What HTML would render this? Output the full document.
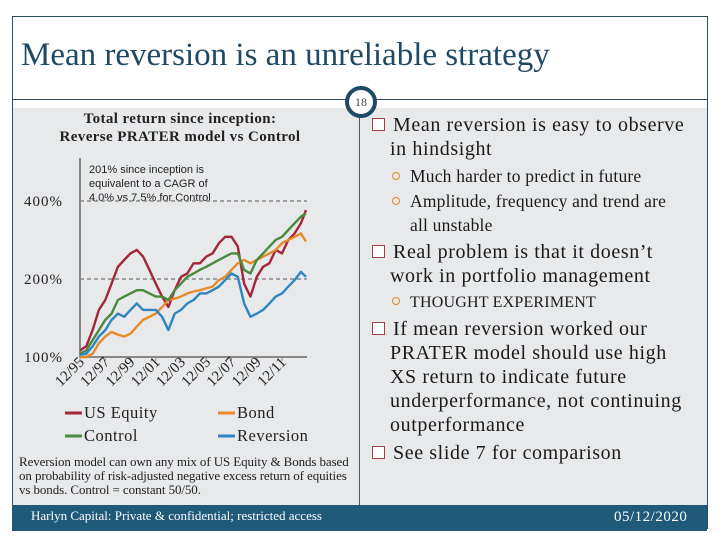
<!DOCTYPE html>
<html><head><meta charset="utf-8"><style>
body{margin:0;width:720px;height:540px;background:#fff;position:relative;overflow:hidden;font-family:"Liberation Serif",serif;}
.abs{position:absolute;}
.b{font-size:20px;letter-spacing:0.6px;color:#1a1a1a;white-space:nowrap;line-height:24px;}
.sq{display:inline-block;width:11px;height:11px;border:1px solid #a04040;background:#fff;margin-right:8px;vertical-align:0px;}
.s{font-size:17.5px;letter-spacing:0.2px;color:#1a1a1a;white-space:nowrap;}
.o{display:inline-block;width:6px;height:6px;border:1.5px solid #e08a20;border-radius:50%;margin-right:10px;vertical-align:2px;}
</style></head><body>
<div class="abs" style="left:12px;top:16px;width:694px;height:511px;border:1px solid #2b4a5e;"></div>
<div class="abs" style="left:21px;top:37px;font-size:33px;color:#1f4a66;white-space:nowrap;">Mean reversion is an unreliable strategy</div>
<div class="abs" style="left:13px;top:108px;width:694px;height:397px;background:#e8e9eb;"></div>
<div class="abs" style="left:13px;top:99px;width:694px;height:1px;background:#2b4a5e;"></div>
<div class="abs" style="left:359px;top:108px;width:1px;height:397px;background:#555;"></div>
<div class="abs" style="left:345px;top:86px;width:24px;height:24px;border:4px solid #1f4a66;border-radius:50%;background:#fff;font-size:12px;color:#444;text-align:center;line-height:24px;">18</div>
<div class="abs" style="left:12px;top:505px;width:695px;height:26px;background:#1f5a7a;"></div>
<div class="abs" style="left:31px;top:508px;font-size:13px;color:#fff;">Harlyn Capital: Private &amp; confidential; restricted access</div>
<div class="abs" style="left:614px;top:509px;font-size:15px;letter-spacing:0.5px;color:#fff;">05/12/2020</div>

<div class="abs" style="left:372px;top:113px;">
<div class="b"><span class="sq"></span>Mean reversion is easy to observe</div>
<div class="b" style="padding-left:18px">in hindsight</div>
<div class="s" style="padding-left:20px;margin-top:2px;line-height:26px"><span class="o"></span>Much harder to predict in future</div>
<div class="s" style="padding-left:20px;line-height:25px"><span class="o"></span>Amplitude, frequency and trend are</div>
<div class="s" style="padding-left:38px;line-height:22px">all unstable</div>
<div class="b" style="margin-top:4px"><span class="sq"></span>Real problem is that it doesn’t</div>
<div class="b" style="padding-left:18px">work in portfolio management</div>
<div class="s" style="padding-left:20px;font-size:16px;line-height:29px"><span class="o"></span>THOUGHT EXPERIMENT</div>
<div class="b"><span class="sq"></span>If mean reversion worked our</div>
<div class="b" style="padding-left:18px">PRATER model should use high</div>
<div class="b" style="padding-left:18px">XS return to indicate future</div>
<div class="b" style="padding-left:18px">underperformance, not continuing</div>
<div class="b" style="padding-left:18px">outperformance</div>
<div class="b" style="margin-top:4px"><span class="sq"></span>See slide 7 for comparison</div>
</div>

<div class="abs" style="left:19px;top:455px;font-size:13px;line-height:14px;color:#222;letter-spacing:-0.1px;white-space:nowrap;">Reversion model can own any mix of US Equity &amp; Bonds based<br>on probability of risk-adjusted negative excess return of equities<br>vs bonds. Control = constant 50/50.</div>

<svg class="abs" style="left:0;top:0" width="720" height="540">
<text x="180" y="123" text-anchor="middle" font-family="Liberation Serif" font-weight="bold" font-size="15" letter-spacing="0.4" fill="#222">Total return since inception:</text>
<text x="180" y="141" text-anchor="middle" font-family="Liberation Serif" font-weight="bold" font-size="15" letter-spacing="0.4" fill="#222">Reverse PRATER model vs Control</text>
<text x="89" y="173" font-family="Liberation Sans" font-size="11" fill="#222">201% since inception is</text>
<text x="89" y="187" font-family="Liberation Sans" font-size="11" fill="#222">equivalent  to a CAGR of</text>
<text x="89" y="201" font-family="Liberation Sans" font-size="11" fill="#222">4.0% vs 7.5% for Control</text>
<g id="grid"></g><g id="axes"></g><g id="series"></g><g id="legend"></g>
</svg>
<script>
const yTicks=[100,200,400];
const yTickLabels=["100%","200%","400%"];
const xTickLabels=["12/95","12/97","12/99","12/01","12/03","12/05","12/07","12/09","12/11"];
const xTickYears=[1995.92,1997.92,1999.92,2001.92,2003.92,2005.92,2007.92,2009.92,2011.92];
const periods=[1995.92,1996.42,1996.92,1997.42,1997.92,1998.42,1998.92,1999.42,1999.92,2000.42,2000.92,2001.42,2001.92,2002.42,2002.92,2003.42,2003.92,2004.42,2004.92,2005.42,2005.92,2006.42,2006.92,2007.42,2007.92,2008.42,2008.92,2009.42,2009.92,2010.42,2010.92,2011.42,2011.92,2012.42,2012.92,2013.42,2013.82];
const usEquity=[106,110,127,152,166,192,223,237,251,259,244,217,192,171,156,181,204,210,230,230,244,251,275,291,291,267,192,171,204,223,230,259,251,283,300,328,369];
const control=[103,106,116,127,139,147,166,171,176,181,181,176,171,171,166,181,192,204,210,217,223,230,237,244,251,251,217,210,237,251,267,283,291,309,328,348,358];
const bond=[100,100,103,113,120,125,122,120,123,131,139,143,147,156,166,168,171,176,179,181,184,187,198,204,217,230,237,230,237,244,251,259,275,283,291,300,279];
const reversion=[102,103,110,120,127,139,147,143,152,161,152,152,152,143,127,147,152,161,166,176,176,181,187,198,210,204,161,143,147,152,161,171,176,187,198,213,204];
const seriesNames=["US Equity","Bond","Control","Reversion"];
const NS="http://www.w3.org/2000/svg";
const X0=80,X1=307,T0=1995.92,T1=2013.9;
const xs=t=>X0+(t-T0)/(T1-T0)*(X1-X0);
const ys=v=>357-Math.log2(v/100)*78;
function mk(tag,attrs,parent){const e=document.createElementNS(NS,tag);for(const k in attrs)e.setAttribute(k,attrs[k]);document.getElementById(parent).appendChild(e);return e;}
yTicks.forEach((v,i)=>{
 if(v>100){const g=mk('line',{x1:X0,x2:X1,y1:ys(v),y2:ys(v),stroke:'#888','stroke-width':1.5,'stroke-dasharray':'4,3'},'grid');
 
 }
 const t=mk('text',{x:24,y:ys(v)+5,'font-family':'Liberation Serif','font-size':15,'letter-spacing':1,fill:'#222'},'axes');t.textContent=yTickLabels[i];
 
 
});
const ax=mk('line',{x1:X0,x2:X0,y1:158,y2:357,stroke:'#888','stroke-width':2},'axes');


const bx=mk('line',{x1:X0,x2:X1,y1:357,y2:357,stroke:'#888','stroke-width':2},'axes');


xTickYears.forEach((t,i)=>{
 const x=xs(t)+5;
 const tk=mk('line',{x1:xs(t),x2:xs(t),y1:357,y2:361,stroke:'#888'},'axes');
 
 
 const l=mk('text',{x:x,y:363,'text-anchor':'end','font-family':'Liberation Serif','font-size':15,fill:'#222',transform:`rotate(-45 ${x} 363)`},'axes');
 l.textContent=xTickLabels[i];
 
 
});
const colors=['#a3263a','#e8892a','#4a8a3c','#2e86c1'];
[usEquity,bond,control,reversion].forEach((arr,si)=>{
 const d=arr.map((v,i)=>(i?'L':'M')+xs(periods[i]).toFixed(1)+','+ys(v).toFixed(1)).join(' ');
 const p=mk('path',{d:d,fill:'none',stroke:colors[si],'stroke-width':2.4,'stroke-linejoin':'round'},'series');
 
 
});
const lp=[[65,413],[218,413],[65,436],[218,436]];
seriesNames.forEach((n,i)=>{
 const l=mk('line',{x1:lp[i][0],x2:lp[i][0]+17,y1:lp[i][1],y2:lp[i][1],stroke:colors[i],'stroke-width':3},'legend');
 
 
 const t=mk('text',{x:lp[i][0]+19,y:lp[i][1]+5,'font-family':'Liberation Serif','font-size':16.5,'letter-spacing':0.5,fill:'#222'},'legend');
 t.textContent=n;
 
 
});
</script>
</body></html>
